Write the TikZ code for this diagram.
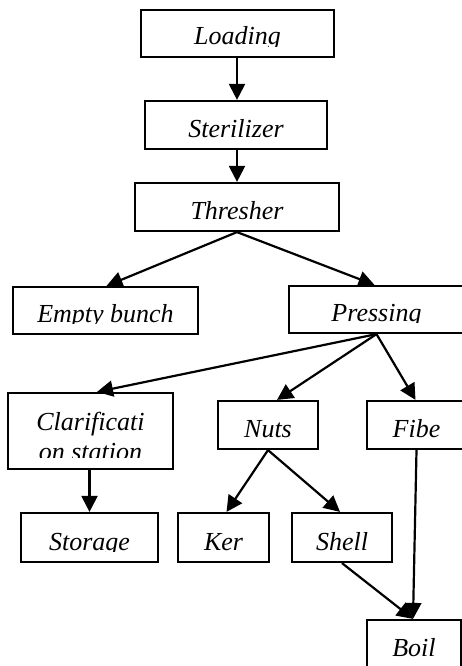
\documentclass[tikz,border=0pt]{standalone}
\usepackage{fontspec}
\setmainfont{Liberation Serif}
\usetikzlibrary{arrows.meta}
\tikzset{
  box/.style={draw, line width=2.2pt, inner sep=0pt, rectangle},
  txt/.style={inner sep=0pt, font=\fontsize{26}{28}\selectfont\itshape, anchor=base},
  flow/.style={line width=2.2pt, -{Triangle[length=16pt,width=16pt]}},
}
\newcommand\flowbox[6]{%
  \node[box, minimum width={(#4-#2)*1pt}, minimum height={(#5-#3)*1pt}] (#1) at ({(#2+#4)/2},{(#3+#5)/2}) {};
  \begin{scope}
    \clip (#2,#3) rectangle (#4,{#5-10.5});
    \node[txt] (#1-t) at ({(#2+#4)/2},{#5-12}) {#6};
  \end{scope}}
\begin{document}
\begin{tikzpicture}[x=1pt,y=-1pt]
  \useasboundingbox (0,0) rectangle (462,666);
  \clip (0,0) rectangle (462,666);
  \flowbox{load}{141}{10}{334}{57}{Loading}
  \flowbox{ster}{145}{101}{327}{149}{Sterilizer}
  \flowbox{thr}{135}{183}{339}{231}{Thresher}
  \flowbox{empty}{13}{287}{198}{334}{Empty bunch}
  \flowbox{press}{289}{286}{464}{333}{Pressing}
  \flowbox{nuts}{218}{401}{318}{449}{Nuts}
  \flowbox{fibe}{367}{401}{466}{449}{Fibe}
  \flowbox{stor}{21}{513}{158}{562}{Storage}
  \flowbox{ker}{178}{513}{269}{562}{Ker}
  \flowbox{shell}{292}{513}{392}{562}{Shell}
  \flowbox{boil}{367}{620}{461}{668}{Boil}
  % clarification box (two lines)
  \node[box, minimum width=165pt, minimum height=76pt] (clar) at (90.5,431) {};
  \begin{scope}
    \clip (8,393) rectangle (173,457);
    \node[txt] (clar-t1) at (90.5,430) {Clarificati};
    \node[txt] (clar-t2) at (90.5,460) {on station};
  \end{scope}
  % connectors
  \draw[flow] ([xshift=1pt]ster.north |- load.south) -- ([xshift=1pt]ster.north);
  \draw[flow] ([xshift=1pt]ster.south) -- ([xshift=1pt]ster.south |- thr.north);
  \draw[flow] (thr.south) -- ([xshift=1pt]empty.north);
  \draw[flow] (thr.south) -- ([xshift=-2pt]press.north);
  \draw[flow] (press.south) -- ([xshift=6.5pt]clar.north);
  \draw[flow] (press.south) -- ([xshift=9pt]nuts.north);
  \draw[flow] (press.south) -- ([xshift=-1pt]fibe.north);
  \draw[flow] (stor.north |- clar.south) -- (stor.north);
  \draw[flow] (nuts.south) -- ([xshift=3pt]ker.north);
  \draw[flow] (nuts.south) -- ([xshift=-2pt]shell.north);
  \draw[flow] (shell.south) -- ([xshift=-1pt]boil.north);
  \draw[flow] (fibe.south) -- ([xshift=-1pt]boil.north);
\end{tikzpicture}
\end{document}
